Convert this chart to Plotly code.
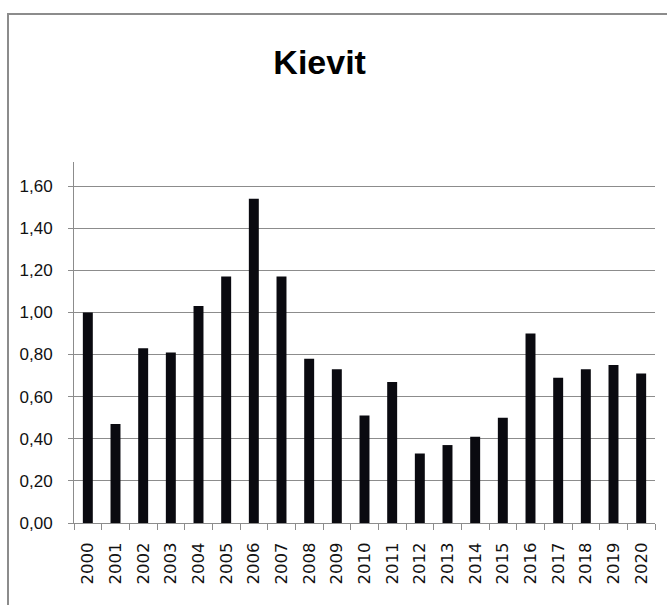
import plotly.graph_objects as go

# data
years = [str(y) for y in range(2000, 2021)]
values = [1.00, 0.47, 0.83, 0.81, 1.03, 1.17, 1.54, 1.17, 0.78, 0.73, 0.51,
          0.67, 0.33, 0.37, 0.41, 0.50, 0.90, 0.69, 0.73, 0.75, 0.71]
y_ticks = [0.0, 0.2, 0.4, 0.6, 0.8, 1.0, 1.2, 1.4, 1.6]

fig = go.Figure()
fig.add_trace(go.Bar(
    x=years, y=values,
    marker=dict(color='#0a0a10', line=dict(width=0)),
    hoverinfo='x+y'
))

fig.update_layout(
    width=667, height=605,
    paper_bgcolor='white', plot_bgcolor='white',
    margin=dict(l=74, r=12, t=162, b=82),
    separators=',.',
    bargap=0.64,
    showlegend=False,
    title=dict(
        text='<b>Kievit</b>',
        x=282 / 667, xref='paper', xanchor='center',
        y=1 - 62 / 605, yref='container', yanchor='middle',
        font=dict(family='Liberation Sans Narrow, Liberation Sans', size=34, color='black')
    ),
    xaxis=dict(
        type='category',
        showgrid=False,
        showline=True, linecolor='#8c8c8c', linewidth=1,
        ticks='outside', tickson='boundaries', ticklen=6, tickcolor='#8c8c8c',
        tickangle=-90,
        tickfont=dict(family='DejaVu Sans', size=16.5, color='#111'),
        ticklabelstandoff=12,
    ),
    yaxis=dict(
        range=[0, 1.714],
        tickvals=y_ticks, tickformat='.2f',
        showgrid=True, gridcolor='#8c8c8c', gridwidth=1,
        showline=True, linecolor='#8c8c8c', linewidth=1,
        zeroline=False,
        ticks='outside', ticklen=5, tickcolor='#8c8c8c',
        tickfont=dict(family='Liberation Sans Narrow, Liberation Sans', size=17, color='#111'),
        ticklabelstandoff=12,
    ),
)

# outer chart frame
fig.add_shape(
    type='rect', xref='paper', yref='paper',
    x0=(8 - 74) / 581, x1=1.2, y0=-0.4, y1=(523 - 14) / 361,
    line=dict(color='#8c8c8c', width=2), fillcolor='rgba(0,0,0,0)', layer='below'
)

# drop the default page margin so the figure sits at the window's corner
fig.write_html('out.html', config={'displayModeBar': False},
               post_script="document.body.style.margin='0';")
